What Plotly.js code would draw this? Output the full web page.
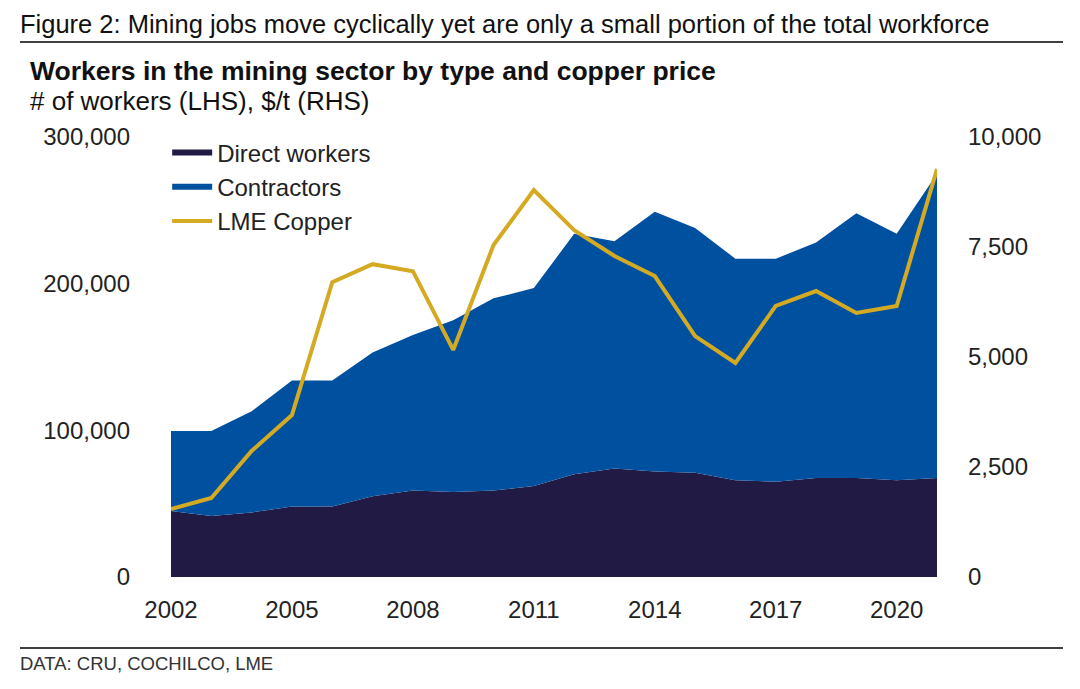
<!DOCTYPE html>
<html><head><script src="https://cdn.plot.ly/plotly-3.0.1.min.js"></script>
<style>body{margin:0}</style></head><body><div id="c" style="width:1080px;height:689px"></div>
<script>
const years=[2002,2003,2004,2005,2006,2007,2008,2009,2010,2011,2012,2013,2014,2015,2016,2017,2018,2019,2020,2021];
const direct=[45000,41600,44000,48000,48000,55000,59000,58000,59000,62000,70000,74000,72000,71000,66000,65000,67500,67500,66000,67500];
const total=[99500,99500,113000,134000,134000,153000,165000,175000,190000,197000,234000,229000,249000,238000,217000,217000,228000,248000,234000,275000];
const contractors=total.map((t,i)=>t-direct[i]);
const copper=[1545,1795,2865,3680,6700,7110,6950,5160,7545,8795,7885,7295,6840,5475,4865,6160,6500,6000,6160,9270];
const F='Liberation Sans, Arial, sans-serif';
const traces=[
 {x:years,y:direct,name:'Direct workers',type:'scatter',mode:'none',stackgroup:'a',fillcolor:'#211a45',line:{width:0}},
 {x:years,y:contractors,name:'Contractors',type:'scatter',mode:'none',stackgroup:'a',fillcolor:'#0050a0',line:{width:0}},
 {x:years,y:copper,name:'LME Copper',type:'scatter',mode:'lines',yaxis:'y2',line:{color:'#d4aa22',width:4}}
];
const layout={
 width:1080,height:689,margin:{l:171,r:143,t:137,b:112},
 paper_bgcolor:'#fff',plot_bgcolor:'#fff',font:{family:F,size:24,color:'#222'},
 showlegend:true,
 legend:{x:-0.005,y:1.015,xanchor:'left',yanchor:'top',bgcolor:'rgba(0,0,0,0)',font:{size:24,color:'#222'},tracegroupgap:12,traceorder:'normal',itemwidth:40},
 xaxis:{range:[2002,2021],tickvals:[2002,2005,2008,2011,2014,2017,2020],showgrid:false,zeroline:false,showline:false,ticks:'',tickfont:{size:24},ticklabelstandoff:16},
 yaxis:{range:[0,300000],tickvals:[0,100000,200000,300000],tickformat:',',showgrid:false,zeroline:false,ticks:'',tickfont:{size:24},ticklabelstandoff:40},
 yaxis2:{overlaying:'y',side:'right',range:[0,10000],tickvals:[0,2500,5000,7500,10000],tickformat:',',showgrid:false,zeroline:false,ticks:'',tickfont:{size:24},ticklabelstandoff:30},
 annotations:[
  {xref:'paper',yref:'paper',x:-153/766,y:1+(137-24)/440,xanchor:'left',yanchor:'middle',text:'Figure 2: Mining jobs move cyclically yet are only a small portion of the total workforce',showarrow:false,font:{size:25.5,color:'#111'}},
  {xref:'paper',yref:'paper',x:-143/766,y:1+(137-71)/440,xanchor:'left',yanchor:'middle',text:'<b>Workers in the mining sector by type and copper price</b>',showarrow:false,font:{size:26.5,color:'#111'}},
  {xref:'paper',yref:'paper',x:-143/766,y:1+(137-101)/440,xanchor:'left',yanchor:'middle',text:'# of workers (LHS), $/t (RHS)',showarrow:false,font:{size:26,color:'#111'}},
  {xref:'paper',yref:'paper',x:-153/766,y:-(663-577)/440,xanchor:'left',yanchor:'middle',text:'DATA: CRU, COCHILCO, LME',showarrow:false,font:{size:18.5,color:'#333'}}
 ],
 shapes:[
  {type:'line',xref:'paper',yref:'paper',x0:-151/766,x1:(1063-171)/766,y0:1+(137-42)/440,y1:1+(137-42)/440,line:{color:'#000',width:1.5}},
  {type:'line',xref:'paper',yref:'paper',x0:-151/766,x1:(1063-171)/766,y0:-(648-577)/440,y1:-(648-577)/440,line:{color:'#000',width:1.5}}
 ]
};
Plotly.newPlot('c',traces,layout,{displayModeBar:false,staticPlot:true});
</script></body></html>
